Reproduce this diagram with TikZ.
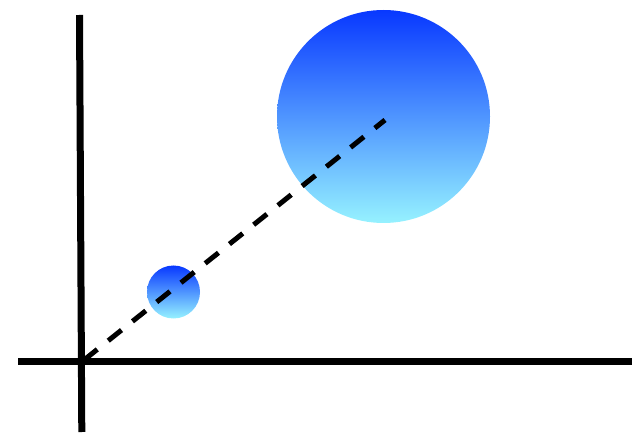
\documentclass[tikz,border=0pt]{standalone}
\begin{document}
\begin{tikzpicture}[x=1pt,y=-1pt,
  axis/.style={line width=7pt},
  guide/.style={line width=5pt,dash pattern=on 17pt off 14pt},
  ball/.style={circle,inner sep=0pt,top color=topblue,bottom color=botcyan,draw=none}]
\definecolor{topblue}{RGB}{8,56,255}
\definecolor{botcyan}{RGB}{150,242,255}
\useasboundingbox (0,0) rectangle (637,438);
\node[ball,minimum size=213pt] (big) at (383.5,116.5) {};
\node[ball,minimum size=53pt] (small) at (173.5,292) {};
\coordinate (vtop) at (79.5,15);
\coordinate (vbot) at (81.8,432);
\coordinate (hl) at (18,361.5);
\coordinate (hr) at (632,361.5);
\coordinate (o) at (84,360);
\coordinate (c) at (385,120);
\draw[axis] (vtop) -- (vbot);
\draw[axis] (hl) -- (hr);
\draw[guide] (o) -- (c);
\end{tikzpicture}
\end{document}
